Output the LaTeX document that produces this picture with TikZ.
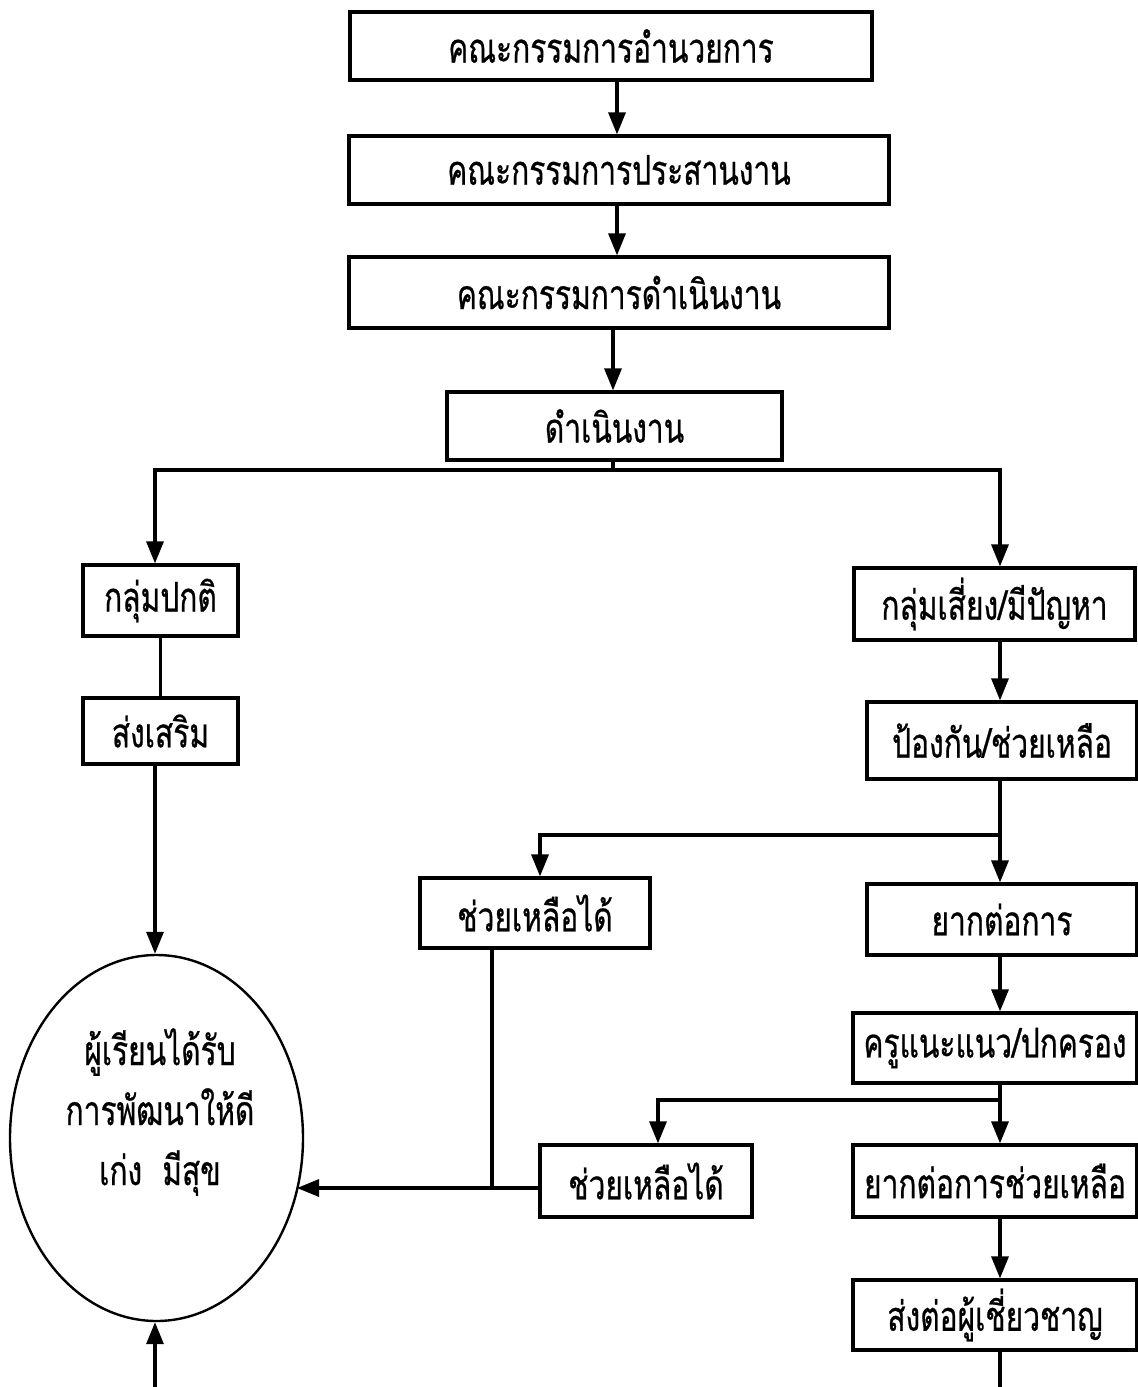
\documentclass[tikz,border=0pt]{standalone}
\usepackage{fontspec}
\newfontfamily\thai[Script=Thai,FakeStretch=0.73,FakeBold=0.6]{Loma}
\usetikzlibrary{arrows.meta,shapes.geometric}
\begin{document}
\begin{tikzpicture}[x=0.5pt,y=-0.5pt,
  box/.style={draw,line width=1.6pt,rectangle,inner sep=0pt,font=\thai\fontsize{20.5}{24}\selectfont},
  arr/.style={line width=1.6pt,-{Triangle[length=11pt,width=8.5pt]}},
  ln/.style={line width=1.6pt},
  txt/.style={align=center,font=\thai\fontsize{20.5}{30}\selectfont}]
\useasboundingbox (0,0) rectangle (1138,1387);
\node[box,minimum width=261pt,minimum height=34pt] (b1) at (611,46) {คณะกรรมการอำนวยการ};
\node[box,minimum width=270pt,minimum height=34pt] (b2) at (619,170) {คณะกรรมการประสานงาน};
\node[box,minimum width=270pt,minimum height=35.5pt] (b3) at (619,292.5) {คณะกรรมการดำเนินงาน};
\node[box,minimum width=167.5pt,minimum height=34pt] (b4) at (614.5,426) {ดำเนินงาน};
\node[box,minimum width=77.5pt,minimum height=35.5pt] (b5) at (160.5,600.5) {กลุ่มปกติ};
\node[box,minimum width=77.5pt,minimum height=33pt] (b6) at (160.5,731) {ส่งเสริม};
\node[box,minimum width=140.5pt,minimum height=36pt] (b7) at (994.5,604) {กลุ่มเสี่ยง/มีปัญหา};
\node[box,minimum width=135pt,minimum height=38.5pt] (b8) at (1002,740.5) {ป้องกัน/ช่วยเหลือ};
\node[box,minimum width=115pt,minimum height=35pt] (b9) at (535,913) {ช่วยเหลือได้};
\node[box,minimum width=135pt,minimum height=35.5pt] (b10) at (1002,919.5) {ยากต่อการ};
\node[box,minimum width=142pt,minimum height=35pt] (b11) at (995,1048) {ครูแนะแนว/ปกครอง};
\node[box,minimum width=106pt,minimum height=36pt] (b12) at (646,1181) {ช่วยเหลือได้};
\node[box,minimum width=142pt,minimum height=36pt] (b13) at (995,1181) {ยากต่อการช่วยเหลือ};
\node[box,minimum width=142pt,minimum height=35pt] (b14) at (995,1315) {ส่งต่อผู้เชี่ยวชาญ};
\node[draw,ellipse,line width=1.2pt,minimum width=146.5pt,minimum height=183pt,inner sep=0pt] (ell) at (156.5,1138) {};
\node[txt] (et) at (160,1112) {ผู้เรียนได้รับ\\การพัฒนาให้ดี\\เก่ง~~มีสุข};
\coordinate (c1) at (617,0);
\coordinate (c2) at (613,0);
\coordinate (xl) at (155,0);
\coordinate (xr) at (1000,0);
\coordinate (j1) at (613,470);
\coordinate (j2) at (1000,835);
\coordinate (x9) at (540,0);
\coordinate (j3) at (1000,1100);
\coordinate (x12) at (658,0);
\coordinate (j4) at (492,1188);
\coordinate (ea) at (297,1188);
\coordinate (botl) at (155,1387);
\coordinate (botr) at (1000,1387);
\draw[arr] (b1.south -| c1) -- (b2.north -| c1);
\draw[arr] (b2.south -| c1) -- (b3.north -| c1);
\draw[arr] (b3.south -| c2) -- (b4.north -| c2);
\draw[ln] (b4.south -| j1) -- (j1);
\draw[arr] (j1) -| (b5.north -| xl);
\draw[arr] (j1) -| (b7.north -| xr);
\draw[ln] (b5.south) -- (b6.north);
\draw[arr] (b6.south -| xl) -- (ell.north -| xl);
\draw[arr] (b7.south -| xr) -- (b8.north -| xr);
\draw[ln] (b8.south -| j2) -- (j2);
\draw[arr] (j2) -| (b9.north -| x9);
\draw[arr] (j2) -- (b10.north -| xr);
\draw[arr] (b10.south -| xr) -- (b11.north -| xr);
\draw[ln] (b11.south -| j3) -- (j3);
\draw[arr] (j3) -| (b12.north -| x12);
\draw[arr] (j3) -- (b13.north -| xr);
\draw[arr] (b13.south -| xr) -- (b14.north -| xr);
\draw[ln] (b14.south -| botr) -- (botr);
\draw[ln] (b9.south -| j4) -- (j4);
\draw[arr] (b12.west |- ea) -- (ea);
\draw[arr] (botl) -- (ell.south -| xl);
\end{tikzpicture}
\end{document}
